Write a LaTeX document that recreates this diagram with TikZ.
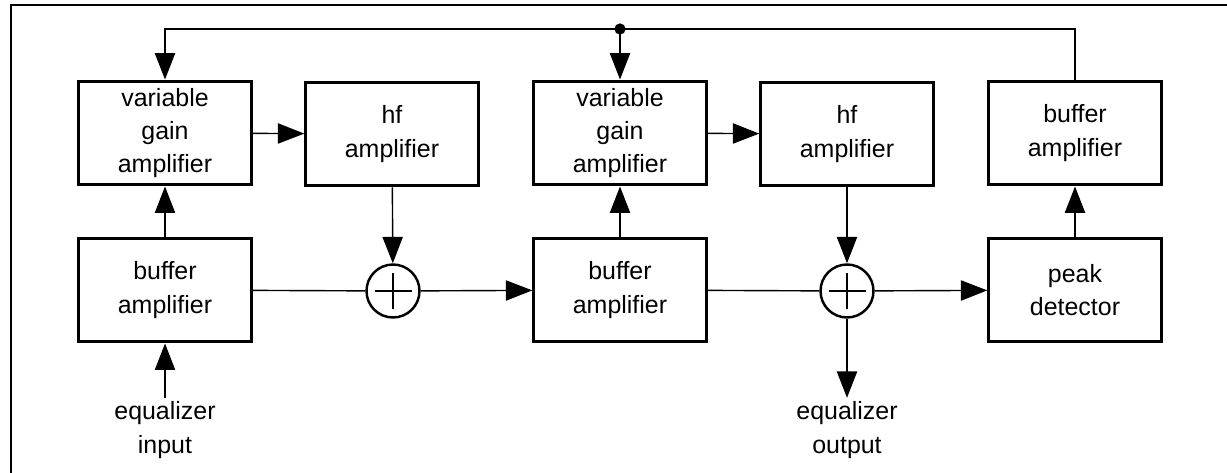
\documentclass[tikz,border=0pt]{standalone}
\usepackage{fontspec}
\setmainfont{Liberation Sans}
\usepackage{tikz}
\usetikzlibrary{arrows.meta, positioning, calc}

\tikzset{
    block/.style={draw, line width=1.7pt, minimum width=3.45cm, minimum height=2.08cm, align=center, font=\fontsize{14.2}{19}\selectfont},
    sumnode/.style={draw, circle, line width=1.4pt, minimum size=1.06cm, inner sep=0pt,
        path picture={\draw[line width=0.8pt] ($(path picture bounding box.center)+(-0.37cm,0)$) -- ($(path picture bounding box.center)+(0.37cm,0)$)
                                              ($(path picture bounding box.center)+(0,-0.37cm)$) -- ($(path picture bounding box.center)+(0,0.37cm)$);}},
    label text/.style={align=center, inner sep=2pt, font=\fontsize{14.2}{19}\selectfont},
    arr/.style={line width=0.8pt, -{Triangle[length=15pt, width=11.5pt]}},
    wire/.style={line width=0.8pt}
}

\begin{document}
\begin{tikzpicture}[x=0.02cm, y=-0.02cm]
    \useasboundingbox (0,0) rectangle (1227,473);
    % Frame
    \draw[line width=1.2pt] (11,473) -- (11,5) -- (1227,5);

    % Upper row
    \node[block] (vga1) at (165,133) {variable\\gain\\amplifier};
    \node[block] (hf1)  at (392,134) {hf\\amplifier};
    \node[block] (vga2) at (620,133) {variable\\gain\\amplifier};
    \node[block] (hf2)  at (847,134) {hf\\amplifier};
    \node[block] (bufout) at (1075,133) {buffer\\amplifier};

    % Lower row
    \node[block] (buf1) at (165,290) {buffer\\amplifier};
    \node[sumnode] (sum1) at (393,291) {};
    \node[block] (buf2) at (620,290) {buffer\\amplifier};
    \node[sumnode] (sum2) at (847,291) {};
    \node[block] (peak) at (1075,290) {peak\\detector};

    % Input / output
    \node[label text] (in)  at (165,430) {equalizer\\input};
    \node[label text] (out) at (847,430) {equalizer\\output};

    % Signal path
    \draw[arr, line width=0.6pt] (in) -- (buf1);
    \draw[arr, line width=0.6pt] (buf1) -- (vga1);
    \draw[arr] (vga1) -- (hf1);
    \draw[arr] (hf1) -- (sum1);
    \draw[wire] (buf1) -- (sum1);
    \draw[arr] (sum1) -- (buf2);
    \draw[arr, line width=0.6pt] (buf2) -- (vga2);
    \draw[arr] (vga2) -- (hf2);
    \draw[arr] (hf2) -- (sum2);
    \draw[wire] (buf2) -- (sum2);
    \draw[arr] (sum2) -- (peak);
    \draw[arr] (sum2) -- (out);
    \draw[arr] (peak) -- (bufout);

    % Gain control feedback
    \coordinate (fb) at (620,29);
    \draw[arr] (bufout.north) |- (fb) -| (vga1.north);
    \draw[arr] (fb) -- (vga2.north);
    \fill (fb) circle (3.2pt);
\end{tikzpicture}
\end{document}
